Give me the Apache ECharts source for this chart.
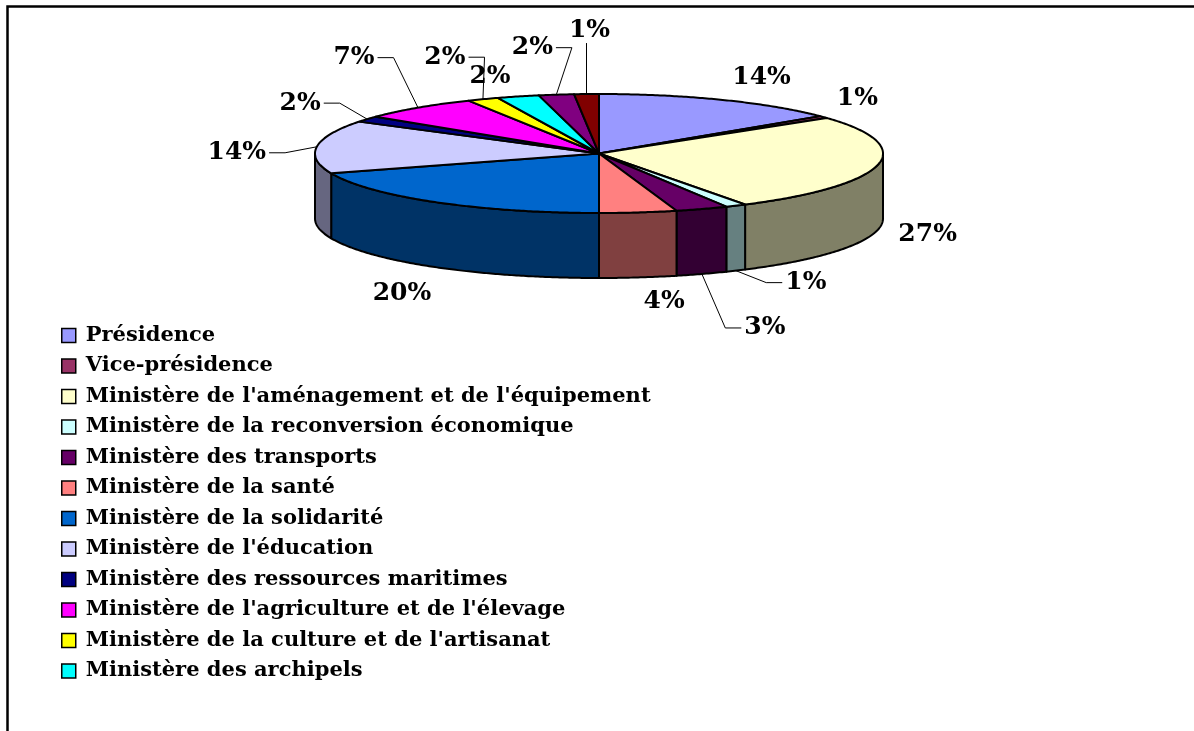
<!DOCTYPE html>
<html>
<head>
<meta charset="utf-8">
<script src="https://cdn.jsdelivr.net/npm/echarts@6/dist/echarts.min.js"></script>
<style>
  html, body { margin: 0; padding: 0; background: #fff; }
  #chart { width: 1194px; height: 731px; }
</style>
</head>
<body>
<div id="chart"></div>
<script>
// categories (the last two slices are not in the visible legend)
const categories = [
    'Présidence',
    'Vice-présidence',
    "Ministère de l'aménagement et de l'équipement",
    'Ministère de la reconversion économique',
    'Ministère des transports',
    'Ministère de la santé',
    'Ministère de la solidarité',
    "Ministère de l'éducation",
    'Ministère des ressources maritimes',
    "Ministère de l'agriculture et de l'élevage",
    "Ministère de la culture et de l'artisanat",
    'Ministère des archipels',
    'Autre 1',
    'Autre 2'
];
// parts (%)
const values = [14.2, 0.6, 26.6, 1.2, 3.0, 4.4, 19.6, 14.4, 1.6, 6.8, 1.8, 2.4, 2.0, 1.4];
const legendNames = categories.slice(0, 12);

// couleurs Excel par défaut
const colors = ['#9999FF', '#993366', '#FFFFCC', '#CCFFFF', '#660066', '#FF8080',
    '#0066CC', '#CCCCFF', '#000080', '#FF00FF', '#FFFF00', '#00FFFF', '#800080', '#800000'];

// placement des étiquettes (décalage depuis le bord de la part) + ligne de rappel
const labelShift = [[40, -22], [34, -19], [50, 4], [70, 12], [63, 54], [26, 24],
    [-33, 26], [-80, 6], [-67, -16], [-64, -50], [-38, -42], [-28, -20], [-24, -47], [3, -64]];
const leader = [false, false, false, true, true, false, false, true, true, true, true, false, true, true];

// géométrie du camembert 3D
const PIE = { cx: 599, cy: 153.5, rx: 284, ry: 59.5, depth: 65 };
const labelFont = 'bold 25px "DejaVu Serif"';

const total = values.reduce((s, v) => s + v, 0);

function darken(hex) {
    const n = parseInt(hex.slice(1), 16);
    const r = Math.round(((n >> 16) & 255) * 0.5);
    const g = Math.round(((n >> 8) & 255) * 0.5);
    const b = Math.round((n & 255) * 0.5);
    return 'rgb(' + r + ',' + g + ',' + b + ')';
}

// angle mesuré dans le sens horaire depuis le haut
function pt(a, down) {
    return [PIE.cx + PIE.rx * Math.sin(a), PIE.cy - PIE.ry * Math.cos(a) + (down ? PIE.depth : 0)];
}
function arc(a1, a2, down) {
    const pts = [];
    const n = Math.max(2, Math.ceil(Math.abs(a2 - a1) / (Math.PI / 360)));
    for (let k = 0; k <= n; k++) {
        pts.push(pt(a1 + (a2 - a1) * k / n, down));
    }
    return pts;
}

const measureCtx = document.createElement('canvas').getContext('2d');
measureCtx.font = labelFont;

function makeRender(i) {
    return function (params, api) {
        const before = values.slice(0, i).reduce((s, v) => s + v, 0);
        const a1 = before / total * Math.PI * 2;
        const a2 = (before + values[i]) / total * Math.PI * 2;
        const children = [];
        const stroke = { stroke: '#000', lineWidth: 2, lineJoin: 'round' };

        // paroi visible (moitié avant)
        const lo = Math.max(a1, Math.PI / 2);
        const hi = Math.min(a2, Math.PI * 1.5);
        if (lo < hi) {
            const pts = arc(lo, hi, false).concat(arc(hi, lo, true));
            children.push({
                type: 'polygon', z2: 1,
                shape: { points: pts },
                style: Object.assign({ fill: darken(colors[i]) }, stroke)
            });
        }
        // face supérieure
        children.push({
            type: 'polygon', z2: 5,
            shape: { points: [[PIE.cx, PIE.cy]].concat(arc(a1, a2, false)) },
            style: Object.assign({ fill: colors[i] }, stroke)
        });

        // étiquette
        const mid = (a1 + a2) / 2;
        const front = Math.cos(mid) < 0;
        const anchor = pt(mid, front);
        const lx = anchor[0] + labelShift[i][0];
        const ly = anchor[1] + labelShift[i][1];
        const text = Math.round(values[i] / total * 100) + '%';
        children.push({
            type: 'text', z2: 20,
            style: {
                text: text, x: lx, y: ly, fill: '#000',
                font: labelFont, align: 'center', verticalAlign: 'middle'
            }
        });
        if (leader[i]) {
            const hw = measureCtx.measureText(text).width / 2 + 3;
            const hh = 11;
            let line;
            if (Math.abs(lx - anchor[0]) > hw) {
                const side = lx < anchor[0] ? 1 : -1;
                const sx = lx + side * hw;
                line = [[sx, ly], [sx + side * 16, ly], anchor];
            } else {
                const sy = ly < anchor[1] ? ly + hh + 2 : ly - hh - 2;
                line = [[lx - 3, sy], anchor];
            }
            children.push({
                type: 'polyline', z2: 20,
                shape: { points: line },
                style: { stroke: '#000', lineWidth: 1, fill: null }
            });
        }
        return { type: 'group', children: children };
    };
}

const chart = echarts.init(document.getElementById('chart'));

const series = categories.map((name, i) => ({
    name: name,
    type: 'custom',
    coordinateSystem: 'none',
    silent: true,
    itemStyle: { color: colors[i] },
    data: [values[i]],
    renderItem: makeRender(i)
}));

chart.setOption({
    animation: false,
    backgroundColor: '#fff',
    graphic: [{
        type: 'rect',
        left: 5, top: 4,
        shape: { width: 1300, height: 900 },
        style: { fill: null, stroke: '#000', lineWidth: 2.5 }
    }],
    legend: {
        orient: 'vertical',
        left: 56,
        top: 320,
        icon: 'rect',
        itemWidth: 14,
        itemHeight: 14,
        itemGap: 9.5,
        selectedMode: false,
        data: legendNames,
        itemStyle: { borderColor: '#000', borderWidth: 1.5 },
        textStyle: {
            fontFamily: 'DejaVu Serif',
            fontWeight: 'bold',
            fontSize: 21,
            lineHeight: 21,
            color: '#000',
            padding: [0, 0, 0, 5]
        }
    },
    series: series
});
</script>
</body>
</html>
